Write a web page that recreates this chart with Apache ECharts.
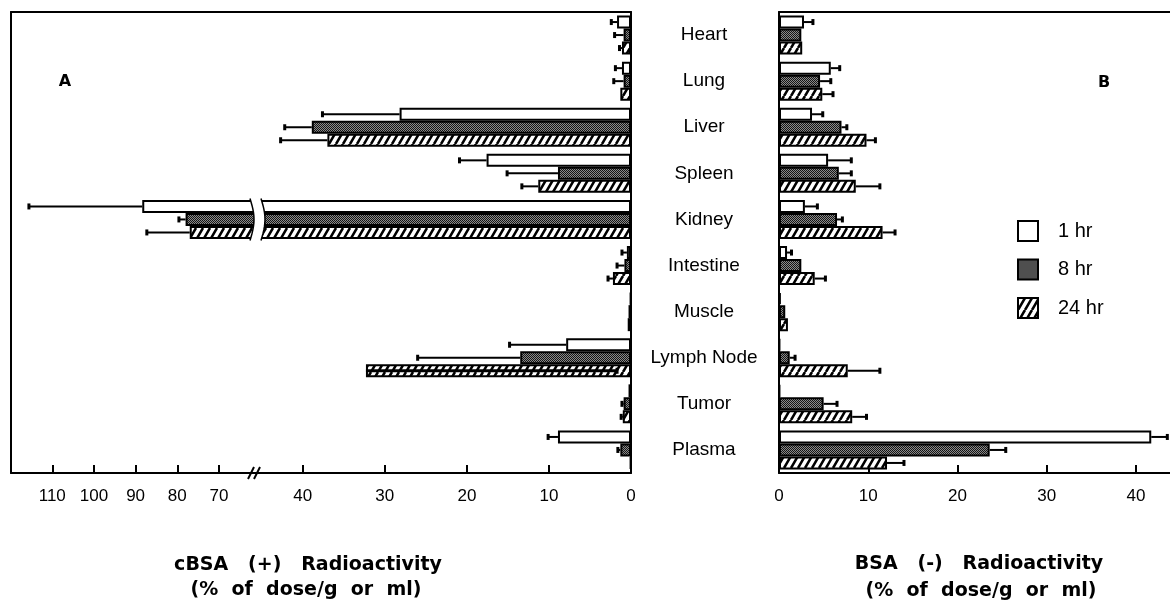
<!DOCTYPE html>
<html>
<head>
<meta charset="utf-8">
<script src="https://cdn.jsdelivr.net/npm/echarts@6.0.0/dist/echarts.min.js"></script>
<style>
html, body { margin: 0; padding: 0; background: #fff; }
#main { width: 1170px; height: 602px; }
</style>
</head>
<body>
<div id="main"></div>
<script>
var organs = ['Heart', 'Lung', 'Liver', 'Spleen', 'Kidney', 'Intestine', 'Muscle', 'Lymph Node', 'Tumor', 'Plasma'];
var timeNames = ['1 hr', '8 hr', '24 hr'];

// panel A, cBSA (+)
var cbsa1 = [1.7, 1.1, 28.2, 17.6, 88.4, 0.5, 0.1, 7.9, 0.3, 8.9];
var cbsa1Err = [0.7, 0.8, 9.4, 3.3, 27.2, 0.6, 0, 6.9, 0, 1.2];
var cbsa8 = [0.9, 0.9, 38.9, 8.9, 78.0, 0.8, 0.3, 13.5, 0.9, 1.3];
var cbsa8Err = [1.1, 1.2, 3.3, 6.2, 1.6, 0.9, 0, 12.5, 0.2, 0.3];
var cbsa24 = [1.1, 1.3, 37.0, 11.3, 77.0, 2.2, 0.4, 32.3, 1.0, 0.1];
var cbsa24Err = [0.3, 0, 5.7, 2.0, 10.3, 0.6, 0, -30.6, 0.2, 0];

// panel B, BSA (-)
var bsa1 = [2.8, 5.8, 3.7, 5.5, 2.9, 0.9, 0.2, 0.1, 0.1, 41.7];
var bsa1Err = [1.0, 1.0, 1.2, 2.6, 1.4, 0.5, 0, 0, 0, 1.8];
var bsa8 = [2.5, 4.6, 7.0, 6.7, 6.5, 2.5, 0.7, 1.2, 5.0, 23.6];
var bsa8Err = [0, 1.2, 0.6, 1.4, 0.6, 0, 0, 0.6, 1.5, 1.8];
var bsa24 = [2.6, 4.85, 9.8, 8.6, 11.6, 4.0, 1.0, 7.7, 8.2, 12.1];
var bsa24Err = [0, 1.2, 1.0, 2.7, 1.4, 1.2, 0, 3.6, 1.6, 1.9];

var tickA1 = [70, 80, 90, 100, 110];
var tickA2 = [0, 10, 20, 30, 40];
var tickB = [0, 10, 20, 30, 40];

var BAR_W = 13;
var BRK = 256; // x where the left axis is broken
var FONT = '"Liberation Sans", Arial, sans-serif';

function stipple() {
    var c = document.createElement('canvas');
    c.width = 2; c.height = 2;
    var g = c.getContext('2d');
    g.fillStyle = '#8a8a8a'; g.fillRect(0, 0, 2, 2);
    g.fillStyle = '#151515'; g.fillRect(0, 0, 1, 1); g.fillRect(1, 1, 1, 1);
    return c;
}
function hatch() {
    var c = document.createElement('canvas');
    c.width = 7; c.height = 12;
    var g = c.getContext('2d');
    g.fillStyle = '#fff'; g.fillRect(0, 0, 7, 12);
    g.strokeStyle = '#000'; g.lineWidth = 2.6;
    g.beginPath();
    for (var k = -1; k <= 1; k++) {
        g.moveTo(k * 7, 12); g.lineTo(k * 7 + 7, 0);
    }
    g.stroke();
    return c;
}

var fills = ['#ffffff', {image: stipple(), repeat: 'repeat'}, {image: hatch(), repeat: 'repeat'}];

var panels = [
    {vals: [cbsa1, cbsa8, cbsa24], errs: [cbsa1Err, cbsa8Err, cbsa24Err]},
    {vals: [cbsa1, cbsa8, cbsa24], errs: [cbsa1Err, cbsa8Err, cbsa24Err]},
    {vals: [bsa1, bsa8, bsa24], errs: [bsa1Err, bsa8Err, bsa24Err]}
];

function renderErr(params, api) {
    var val = api.value(0), cat = api.value(1), err = api.value(2), t = api.value(3);
    if (!err) return null;
    var cs = params.coordSys;
    var p0 = api.coord([val, cat]);
    var p1 = api.coord([val + err, cat]);
    var lo = cs.x - 1, hi = cs.x + cs.width + 1;
    if (p0[0] < lo || p0[0] > hi || p1[0] < lo || p1[0] > hi) return null;
    var y = p0[1] + (t - 1) * BAR_W;
    // an error drawn back into the bar is a heavier stroke
    var w = err < 0 ? 3 : 2;
    return {
        type: 'group',
        children: [
            {type: 'line', shape: {x1: p0[0], y1: y, x2: p1[0], y2: y}, style: {stroke: '#000', lineWidth: w}},
            {type: 'rect', shape: {x: p1[0] - 1.5, y: y - 3, width: 3, height: 6}, style: {fill: '#000'}}
        ]
    };
}

var series = [];
panels.forEach(function (p, gi) {
    for (var t = 0; t < 3; t++) {
        series.push({
            type: 'bar',
            name: timeNames[t],
            xAxisIndex: gi,
            yAxisIndex: gi,
            data: p.vals[t],
            barWidth: BAR_W,
            barGap: '0%',
            clip: true,
            silent: true,
            itemStyle: {color: fills[t], borderColor: '#000', borderWidth: 2}
        });
    }
    var rows = [];
    for (var t2 = 0; t2 < 3; t2++) {
        for (var i = 0; i < organs.length; i++) {
            rows.push([p.vals[t2][i], i, p.errs[t2][i], t2]);
        }
    }
    series.push({
        type: 'custom',
        xAxisIndex: gi,
        yAxisIndex: gi,
        data: rows,
        renderItem: renderErr,
        silent: true,
        z: 5
    });
});

var lineStyle = {color: '#000', width: 2};
function bottomAxis(gi, min, max, inverse, ticks) {
    return {
        type: 'value', gridIndex: gi, position: 'bottom', min: min, max: max, inverse: inverse,
        splitLine: {show: false},
        axisLine: {show: true, lineStyle: lineStyle},
        axisTick: {show: true, inside: true, length: 8, lineStyle: lineStyle, customValues: ticks},
        axisLabel: {show: true, customValues: ticks, margin: 15, color: '#000', fontSize: 17, fontFamily: FONT}
    };
}
function topAxis(gi, min, max, inverse) {
    return {
        type: 'value', gridIndex: gi, position: 'top', min: min, max: max, inverse: inverse,
        splitLine: {show: false}, axisTick: {show: false}, axisLabel: {show: false},
        axisLine: {show: true, lineStyle: lineStyle}
    };
}
function catAxis(gi, pos, labels) {
    return {
        type: 'category', gridIndex: gi, data: organs, inverse: true, position: pos,
        axisLine: {show: true, lineStyle: lineStyle},
        axisTick: {show: false},
        axisLabel: labels ? {show: true, margin: 75, align: 'center', color: '#000', fontSize: 19,
            fontFamily: FONT, padding: [4, 0, 0, 0]} : {show: false}
    };
}

var option = {
    animation: false,
    backgroundColor: '#fff',
    grid: [
        {left: 11, top: 12, width: BRK - 11, height: 461},
        {left: BRK, top: 12, width: 631 - BRK, height: 461},
        {left: 779, top: 12, right: 0, height: 461}
    ],
    xAxis: [
        bottomAxis(0, 61.1, 119.9, true, tickA1),
        bottomAxis(1, 0, 45.7, true, tickA2),
        bottomAxis(2, 0, 43.8, false, tickB),
        topAxis(0, 61.1, 119.9, true),
        topAxis(1, 0, 45.7, true),
        topAxis(2, 0, 43.8, false)
    ],
    yAxis: [
        catAxis(0, 'left', false),
        catAxis(1, 'right', false),
        catAxis(2, 'left', true)
    ],
    legend: {
        data: timeNames,
        orient: 'vertical',
        left: 1017,
        top: 220,
        padding: 0,
        itemWidth: 20,
        itemHeight: 20,
        itemGap: 16.5,
        icon: 'rect',
        selectedMode: false,
        textStyle: {fontSize: 20, fontFamily: FONT, color: '#000', padding: [0, 0, 0, 15]}
    },
    series: series
};

var chart = echarts.init(document.getElementById('main'));
chart.setOption(option);

// break marks and texts
var yKid = chart.convertToPixel({yAxisIndex: 0}, 'Kidney');
var top0 = yKid - 1.5 * BAR_W - 1.5, bot0 = yKid + 1.5 * BAR_W + 1.5;
var leftCurve = [], rightCurve = [];
for (var s = 0; s <= 12; s++) {
    var f = s / 12;
    var yy = top0 + (bot0 - top0) * f;
    var bulge = 4 * Math.sin(Math.PI * f);
    leftCurve.push([BRK - 6 + bulge, yy]);
    rightCurve.push([BRK + 5 + bulge, yy]);
}
var gap = leftCurve.concat(rightCurve.slice().reverse());
var boldFont = 'bold 19px "DejaVu Sans", sans-serif';

chart.setOption({
    graphic: [
        {type: 'polygon', shape: {points: gap}, style: {fill: '#fff'}, z: 100},
        {type: 'polyline', shape: {points: leftCurve}, style: {stroke: '#000', lineWidth: 1.5, fill: null}, z: 101},
        {type: 'polyline', shape: {points: rightCurve}, style: {stroke: '#000', lineWidth: 1.5, fill: null}, z: 101},
        {type: 'line', shape: {x1: BRK - 8, y1: 479, x2: BRK - 2, y2: 467}, style: {stroke: '#000', lineWidth: 2}, z: 101},
        {type: 'line', shape: {x1: BRK - 2, y1: 479, x2: BRK + 4, y2: 467}, style: {stroke: '#000', lineWidth: 2}, z: 101},
        {type: 'text', x: 65, y: 82, style: {text: 'A', font: 'bold 16px "DejaVu Sans", sans-serif', fill: '#000', align: 'center', verticalAlign: 'middle'}},
        {type: 'text', x: 1104, y: 83, style: {text: 'B', font: 'bold 16px "DejaVu Sans", sans-serif', fill: '#000', align: 'center', verticalAlign: 'middle'}},
        {type: 'text', x: 308, y: 565, style: {text: 'cBSA   (+)   Radioactivity', font: boldFont, fill: '#000', align: 'center', verticalAlign: 'middle'}},
        {type: 'text', x: 306, y: 590, style: {text: '(%  of  dose/g  or  ml)', font: boldFont, fill: '#000', align: 'center', verticalAlign: 'middle'}},
        {type: 'text', x: 979, y: 564, style: {text: 'BSA   (-)   Radioactivity', font: boldFont, fill: '#000', align: 'center', verticalAlign: 'middle'}},
        {type: 'text', x: 981, y: 591, style: {text: '(%  of  dose/g  or  ml)', font: boldFont, fill: '#000', align: 'center', verticalAlign: 'middle'}}
    ]
});
</script>
</body>
</html>
